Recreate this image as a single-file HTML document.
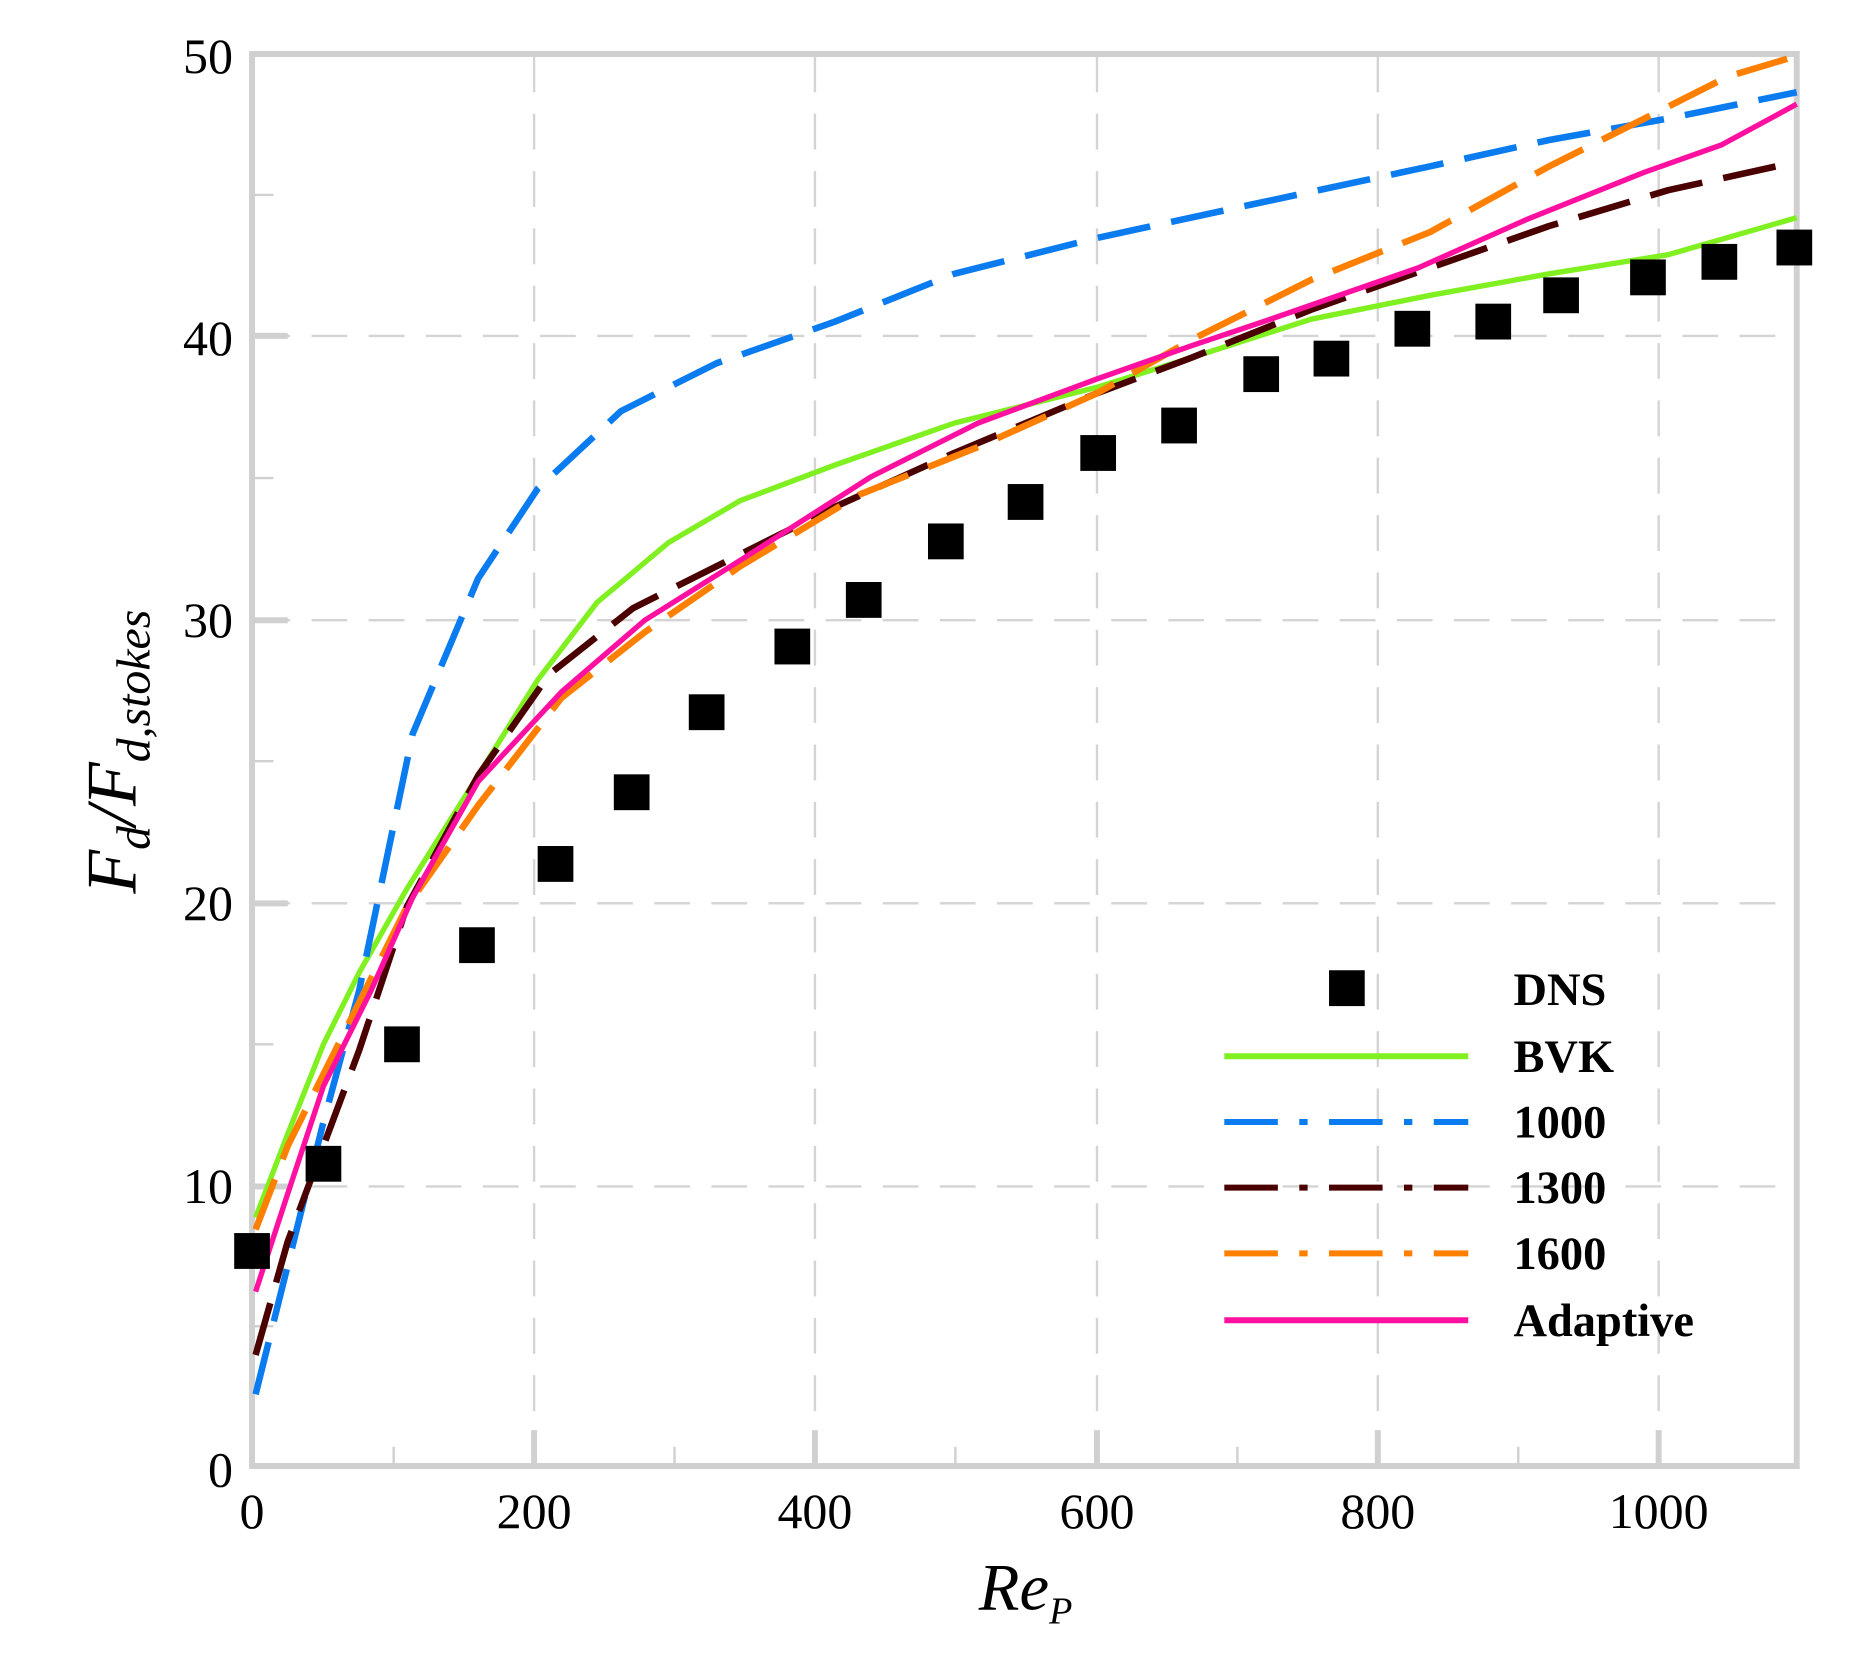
<!DOCTYPE html>
<html><head><meta charset="utf-8"><style>html,body{margin:0;padding:0;background:#fff}svg{display:block}</style></head>
<body>
<svg width="1868" height="1655" viewBox="-1.8 0.8 1569.7 1385.4" preserveAspectRatio="none" xmlns="http://www.w3.org/2000/svg" font-family="'Liberation Serif', serif">
<rect x="-10" y="-10" width="1600" height="1420" fill="#fff"/>
<g stroke="#d4d4d4" stroke-width="2" stroke-dasharray="30 18">
<line x1="447" y1="48" x2="447" y2="1226"/><line x1="683" y1="48" x2="683" y2="1226"/><line x1="920" y1="48" x2="920" y2="1226"/><line x1="1156" y1="48" x2="1156" y2="1226"/><line x1="1392" y1="48" x2="1392" y2="1226"/>
<line x1="212" y1="282" x2="1506" y2="282"/><line x1="212" y1="520" x2="1506" y2="520"/><line x1="212" y1="757" x2="1506" y2="757"/><line x1="212" y1="994" x2="1506" y2="994"/>
</g>
<g stroke="#d0d0d0" stroke-width="2">
<line x1="329" y1="1228" x2="329" y2="1212"/><line x1="565" y1="1228" x2="565" y2="1212"/><line x1="801" y1="1228" x2="801" y2="1212"/><line x1="1038" y1="1228" x2="1038" y2="1212"/><line x1="1274" y1="1228" x2="1274" y2="1212"/>
<line x1="212" y1="164" x2="228" y2="164"/><line x1="212" y1="401" x2="228" y2="401"/><line x1="212" y1="638" x2="228" y2="638"/><line x1="212" y1="875" x2="228" y2="875"/><line x1="212" y1="1111" x2="228" y2="1111"/>
</g>
<g stroke="#d0d0d0" stroke-width="5">
<line x1="447" y1="1228" x2="447" y2="1198"/><line x1="683" y1="1228" x2="683" y2="1198"/><line x1="920" y1="1228" x2="920" y2="1198"/><line x1="1156" y1="1228" x2="1156" y2="1198"/><line x1="1392" y1="1228" x2="1392" y2="1198"/>
<line x1="210" y1="282" x2="240" y2="282"/><line x1="210" y1="520" x2="240" y2="520"/><line x1="210" y1="757" x2="240" y2="757"/><line x1="210" y1="994" x2="240" y2="994"/>
</g>
<rect x="210" y="46" width="1298" height="1182" fill="none" stroke="#d0d0d0" stroke-width="5"/>
<g fill="none" stroke-width="4.5" stroke-linejoin="round">
<polyline stroke="#80f020" points="213,1020 240,950 270,875 300,815 340,745 400,650 450,570 500,505 560,455 620,420 700,390 800,355 920,325 1000,300 1100,268 1200,248 1300,230 1400,214 1508,183"/>
<polyline stroke="#0a7cf0" stroke-width="5.5" stroke-dasharray="45 18" points="213,1168 240,1060 270,940 300,830 345,615 400,485 450,410 520,345 600,305 700,270 800,230 920,200 1050,172 1200,140 1300,118 1400,100 1508,78"/>
<polyline stroke="#4a0000" stroke-width="5.5" stroke-dasharray="45 18" points="213,1135 240,1040 270,960 300,880 340,760 400,650 460,565 530,510 600,475 700,425 800,380 920,330 1000,300 1100,260 1200,225 1300,190 1400,160 1500,138"/>
<polyline stroke="#ff7f00" stroke-width="5.5" stroke-dasharray="45 18" points="213,1030 240,960 280,880 340,760 400,675 470,585 540,530 620,475 720,415 820,375 920,330 1000,285 1100,235 1200,195 1300,140 1400,90 1450,65 1500,50"/>
<polyline stroke="#ff10a0" points="213,1082 240,1000 270,910 310,830 345,752 400,655 470,580 540,520 620,470 730,400 820,355 920,318 1000,290 1060,270 1190,225 1280,185 1380,145 1445,122 1508,88"/>
</g>
<g fill="#000">
<rect x="195" y="1033" width="30" height="30"/><rect x="255" y="960" width="30" height="30"/><rect x="321" y="860" width="30" height="30"/><rect x="384" y="777" width="30" height="30"/><rect x="450" y="709" width="30" height="30"/><rect x="514" y="649" width="30" height="30"/><rect x="577" y="582" width="30" height="30"/><rect x="649" y="527" width="30" height="30"/><rect x="709" y="488" width="30" height="30"/><rect x="778" y="439" width="30" height="30"/><rect x="845" y="406" width="30" height="30"/><rect x="906" y="365" width="30" height="30"/><rect x="974" y="342" width="30" height="30"/><rect x="1043" y="299" width="30" height="30"/><rect x="1102" y="286" width="30" height="30"/><rect x="1170" y="261" width="30" height="30"/><rect x="1238" y="255" width="30" height="30"/><rect x="1295" y="233" width="30" height="30"/><rect x="1368" y="218" width="30" height="30"/><rect x="1428" y="205" width="30" height="30"/><rect x="1491" y="193" width="30" height="30"/>
<rect x="1115" y="813" width="30" height="30"/>
</g>
<g stroke-width="5">
<line x1="1027" y1="885" x2="1232" y2="885" stroke="#80f020"/>
<line x1="1027" y1="940" x2="1232" y2="940" stroke="#0a7cf0" stroke-dasharray="45 18 7 18"/>
<line x1="1027" y1="995" x2="1232" y2="995" stroke="#4a0000" stroke-dasharray="45 18 7 18"/>
<line x1="1027" y1="1050" x2="1232" y2="1050" stroke="#ff7f00" stroke-dasharray="45 18 7 18"/>
<line x1="1027" y1="1106" x2="1232" y2="1106" stroke="#ff10a0"/>
</g>
<g font-weight="bold" font-size="39" fill="#000">
<text x="1270" y="842">DNS</text><text x="1270" y="898">BVK</text><text x="1270" y="953">1000</text><text x="1270" y="1008">1300</text><text x="1270" y="1063">1600</text><text x="1270" y="1119">Adaptive</text>
</g>
<g font-size="42" fill="#000" text-anchor="end">
<text x="194" y="62">50</text><text x="194" y="298">40</text><text x="194" y="534">30</text><text x="194" y="771">20</text><text x="194" y="1008">10</text><text x="194" y="1245">0</text>
</g>
<g font-size="42" fill="#000" text-anchor="middle">
<text x="210" y="1280">0</text><text x="447" y="1280">200</text><text x="683" y="1280">400</text><text x="920" y="1280">600</text><text x="1156" y="1280">800</text><text x="1392" y="1280">1000</text>
</g>
<text x="860" y="1348" font-size="56" font-style="italic" text-anchor="middle">Re<tspan font-size="32" dy="12">P</tspan></text>
<text transform="translate(112,630) rotate(-90)" font-size="60" font-style="italic" text-anchor="middle">F<tspan font-size="40" dy="12">d</tspan><tspan dy="-12">/F</tspan><tspan font-size="40" dy="12">d,stokes</tspan></text>
</svg>
</body></html>
